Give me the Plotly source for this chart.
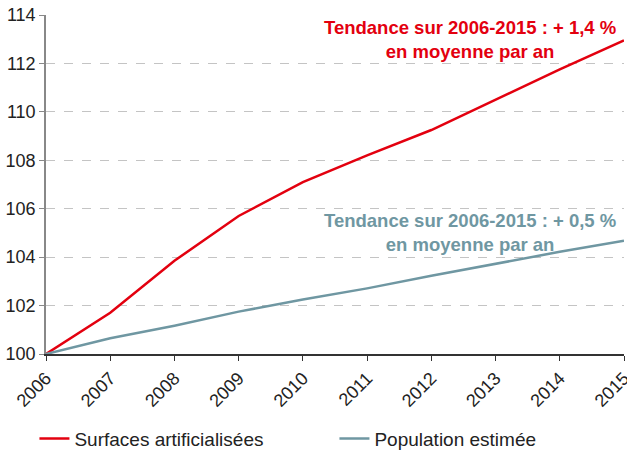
import plotly.graph_objects as go

years = ["2006", "2007", "2008", "2009", "2010", "2011", "2012", "2013", "2014", "2015"]
surfaces = [100, 101.7, 103.85, 105.7, 107.1, 108.2, 109.25, 110.5, 111.75, 112.95]
population = [100, 100.65, 101.17, 101.75, 102.25, 102.71, 103.23, 103.73, 104.22, 104.68]
y_ticks = [100, 102, 104, 106, 108, 110, 112, 114]

RED = "#e3000f"
GREY = "#6f97a2"
FONT = "Liberation Sans, Arial, sans-serif"

fig = go.Figure()
fig.add_trace(go.Scatter(x=years, y=surfaces, mode="lines", name="Surfaces artificialisées",
                         line=dict(color=RED, width=2.5)))
fig.add_trace(go.Scatter(x=years, y=population, mode="lines", name="Population estimée",
                         line=dict(color=GREY, width=2.5)))

fig.add_annotation(x=1, y=1.0, xref="paper", yref="paper", xanchor="right", yanchor="top",
                   text="<b>Tendance sur 2006-2015 : + 1,4 %</b><br><b>en moyenne par an</b>",
                   showarrow=False, align="center", xshift=-6, yshift=0,
                   font=dict(family=FONT, size=18.5, color=RED))
fig.add_annotation(x=1, y=0.44, xref="paper", yref="paper", xanchor="right", yanchor="top",
                   text="<b>Tendance sur 2006-2015 : + 0,5 %</b><br><b>en moyenne par an</b>",
                   showarrow=False, align="center", xshift=-6, yshift=-3,
                   font=dict(family=FONT, size=18.5, color=GREY))

fig.update_layout(
    width=627, height=450,
    margin=dict(l=46, r=3, t=15, b=96, autoexpand=False),
    paper_bgcolor="white", plot_bgcolor="white",
    font=dict(family=FONT, size=18, color="#222222"),
    showlegend=True,
    legend=dict(orientation="h", x=-0.02, y=-0.25, xanchor="left", yanchor="middle",
                entrywidth=255, entrywidthmode="pixels",
                font=dict(family=FONT, size=19, color="#222222"), bgcolor="rgba(0,0,0,0)"),
    xaxis=dict(type="category", range=[0, 9], showgrid=False, showline=True,
               linecolor="#333333", linewidth=1.5, ticks="outside", ticklen=5,
               tickcolor="#333333", tickangle=-45, tickfont=dict(size=18), zeroline=False),
    yaxis=dict(range=[100, 114], tickvals=y_ticks, showgrid=True, gridcolor="#c4c4c4",
               griddash="dash", gridwidth=1, showline=True, linecolor="#888888", linewidth=1.5,
               ticks="outside", ticklen=5, tickcolor="#888888", tickfont=dict(size=18),
               zeroline=False),
)

fig.write_html("out.html", config={"displayModeBar": False},
               post_script="document.body.style.margin='0';")
